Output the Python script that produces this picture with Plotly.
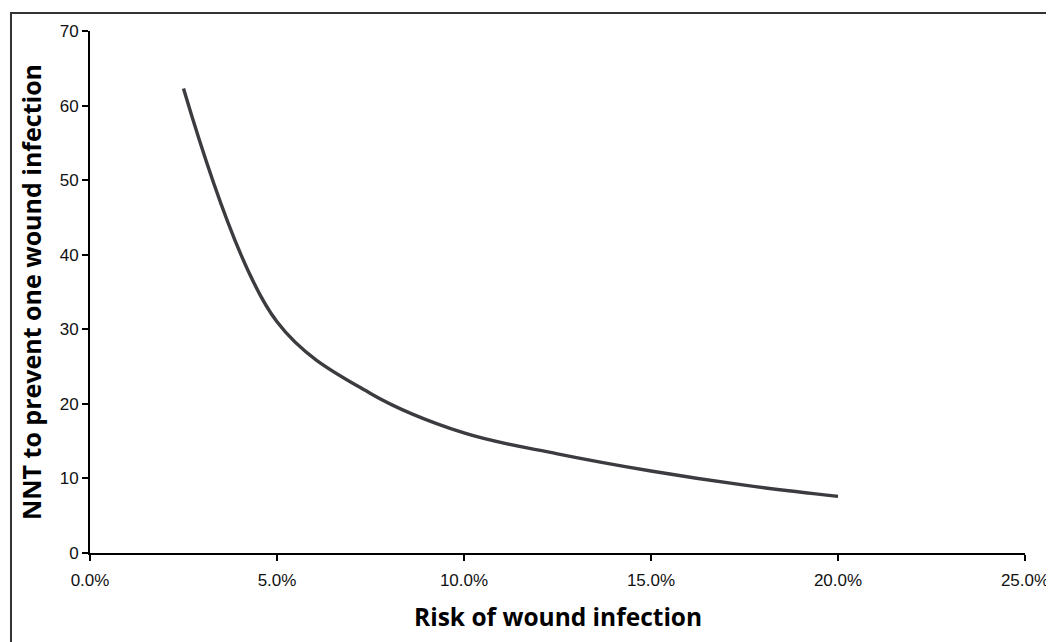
import plotly.graph_objects as go

risk = [0.025, 0.05, 0.075, 0.10, 0.125, 0.15, 0.175, 0.20]
nnt = [62.3, 31.0, 21.4, 16.1, 13.3, 11.0, 9.1, 7.6]

x_ticks = [0, 0.05, 0.10, 0.15, 0.20, 0.25]
x_tick_labels = ["0.0%", "5.0%", "10.0%", "15.0%", "20.0%", "25.0%"]
y_ticks = [0, 10, 20, 30, 40, 50, 60, 70]

fig = go.Figure()
fig.add_trace(go.Scatter(
    x=risk, y=nnt, mode="lines",
    line=dict(color="#3c3c40", width=3.4, shape="spline", smoothing=1.0),
    hoverinfo="skip", showlegend=False,
))

tick_font = dict(family="Liberation Sans, Arial, sans-serif", size=17, color="#111")

fig.update_layout(
    width=1046, height=634,
    margin=dict(l=82, r=29, t=23, b=89),
    paper_bgcolor="white", plot_bgcolor="white",
    xaxis=dict(range=[0, 0.25], tickvals=x_ticks, ticktext=x_tick_labels,
               showgrid=False, zeroline=False, showline=True, linecolor="black",
               linewidth=2, ticks="outside", ticklen=6, tickwidth=2,
               tickcolor="black", tickfont=tick_font, ticklabeloverflow="allow",
               ticklabelstandoff=5, automargin=False),
    yaxis=dict(range=[0, 70], tickvals=y_ticks,
               showgrid=False, zeroline=False, showline=True, linecolor="black",
               linewidth=2, ticks="outside", ticklen=6, tickwidth=2,
               tickcolor="black", tickfont=tick_font, automargin=False),
    shapes=[dict(type="rect", xref="paper", yref="paper",
                 x0=-0.0845, x1=1.2, y0=-0.4, y1=1.0345,
                 line=dict(color="#333", width=2), layer="below")],
    annotations=[
        dict(text="<b>Risk of wound infection</b>", xref="paper", yref="paper",
             x=0.5, y=-0.1226, xanchor="center", yanchor="middle", showarrow=False,
             font=dict(family="Open Sans, Liberation Sans, sans-serif", size=24.5, color="#000")),
        dict(text="<b>NNT to prevent one wound infection</b>", xref="paper", yref="paper",
             x=-0.063, y=0.5, xanchor="center", yanchor="middle", showarrow=False,
             textangle=-90,
             font=dict(family="Open Sans, Liberation Sans, sans-serif", size=25, color="#000")),
    ],
)

fig.write_html("out.html")
